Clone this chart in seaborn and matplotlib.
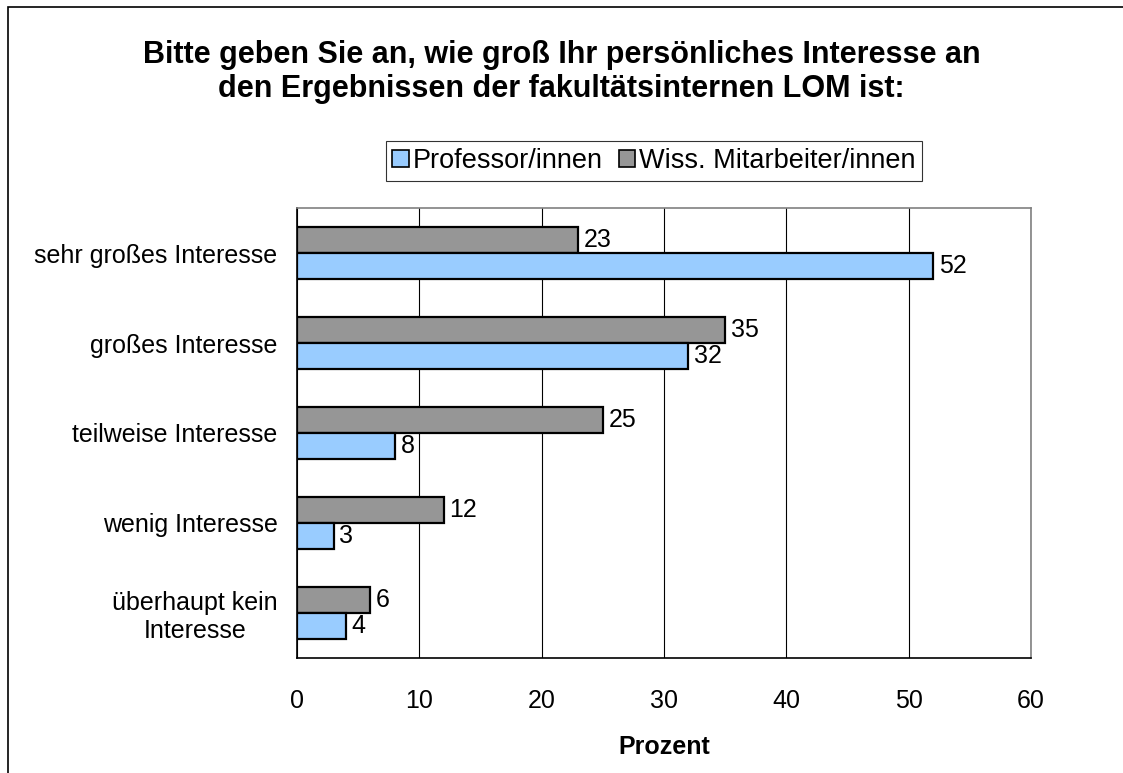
import pandas as pd
import matplotlib.pyplot as plt
import matplotlib.patches as mpatches
import seaborn as sns

# Data
categories = ["sehr großes Interesse", "großes Interesse", "teilweise Interesse",
              "wenig Interesse", "überhaupt kein\nInteresse"]
professoren = [52, 32, 8, 3, 4]
mitarbeiter = [23, 35, 25, 12, 6]
x_ticks = [0, 10, 20, 30, 40, 50, 60]

df = pd.DataFrame({
    "Kategorie": categories * 2,
    "Prozent": mitarbeiter + professoren,
    "Gruppe": ["Wiss. Mitarbeiter/innen"] * 5 + ["Professor/innen"] * 5,
})

sns.set_style("white")
plt.rcParams['font.family'] = ['Liberation Sans', 'DejaVu Sans']
plt.rcParams['text.color'] = 'black'
plt.rcParams['xtick.color'] = 'black'
plt.rcParams['ytick.color'] = 'black'
plt.rcParams['axes.labelcolor'] = 'black'

blue = "#99CCFF"
gray = "#969696"
fs = 18

fig = plt.figure(figsize=(11.23, 7.73), dpi=100)
ax = fig.add_axes([0.2645, 0.1488, 0.918 - 0.2645, 0.7309 - 0.1488])

sns.barplot(
    data=df, y="Kategorie", x="Prozent", hue="Gruppe",
    hue_order=["Wiss. Mitarbeiter/innen", "Professor/innen"],
    palette=[gray, blue], saturation=1, order=categories, orient="h",
    width=0.58, edgecolor="black", linewidth=1.6, ax=ax, legend=False,
)

for cont in ax.containers:
    ax.bar_label(cont, padding=4, fontsize=fs)

ax.set_xlim(0, 60)
ax.set_ylim(4.5, -0.5)
ax.set_xticks(x_ticks)
ax.tick_params(axis="x", labelsize=fs, direction="out", length=6, width=1, pad=16)
ax.tick_params(axis="y", which="major", length=0, labelsize=fs, pad=14)
ax.set_yticks([i + 0.5 for i in range(-1, 5)], minor=True)
ax.tick_params(axis="y", which="minor", direction="out", length=6, width=1)
for lbl in ax.get_yticklabels():
    lbl.set_multialignment("center")

ax.grid(axis="x", color="black", linewidth=0.8)
ax.set_axisbelow(True)
ax.set_ylabel("")
ax.set_xlabel("Prozent", fontsize=fs, fontweight="bold", labelpad=16)

for side in ["left", "bottom"]:
    ax.spines[side].set_color("black")
    ax.spines[side].set_linewidth(1.2)
for side in ["top", "right"]:
    ax.spines[side].set_color("#808080")
    ax.spines[side].set_linewidth(1.2)

fig.text(0.5, 0.9065, "Bitte geben Sie an, wie groß Ihr persönliches Interesse an\n"
         "den Ergebnissen der fakultätsinternen LOM ist:",
         fontsize=22, fontweight="bold", ha="center", va="center", linespacing=1.18)

handles = [mpatches.Patch(facecolor=blue, edgecolor="black", linewidth=1.2, label="Professor/innen"),
           mpatches.Patch(facecolor=gray, edgecolor="black", linewidth=1.2, label="Wiss. Mitarbeiter/innen")]
leg = fig.legend(handles=handles, loc="center", bbox_to_anchor=(0.5824, 0.7917), ncol=2,
                 fontsize=19.5, frameon=True, fancybox=False, edgecolor="black",
                 handlelength=0.6, handleheight=0.6, handletextpad=0.15, columnspacing=0.6,
                 borderpad=0.25, borderaxespad=0)
leg.get_frame().set_linewidth(0.8)

fig.patches.append(mpatches.Rectangle((8 / 1123, -0.1), 1.2, 1 - 7 / 773 + 0.1,
                                      transform=fig.transFigure, fill=False,
                                      edgecolor="black", linewidth=1.2))

plt.savefig("out.png", dpi=100)
